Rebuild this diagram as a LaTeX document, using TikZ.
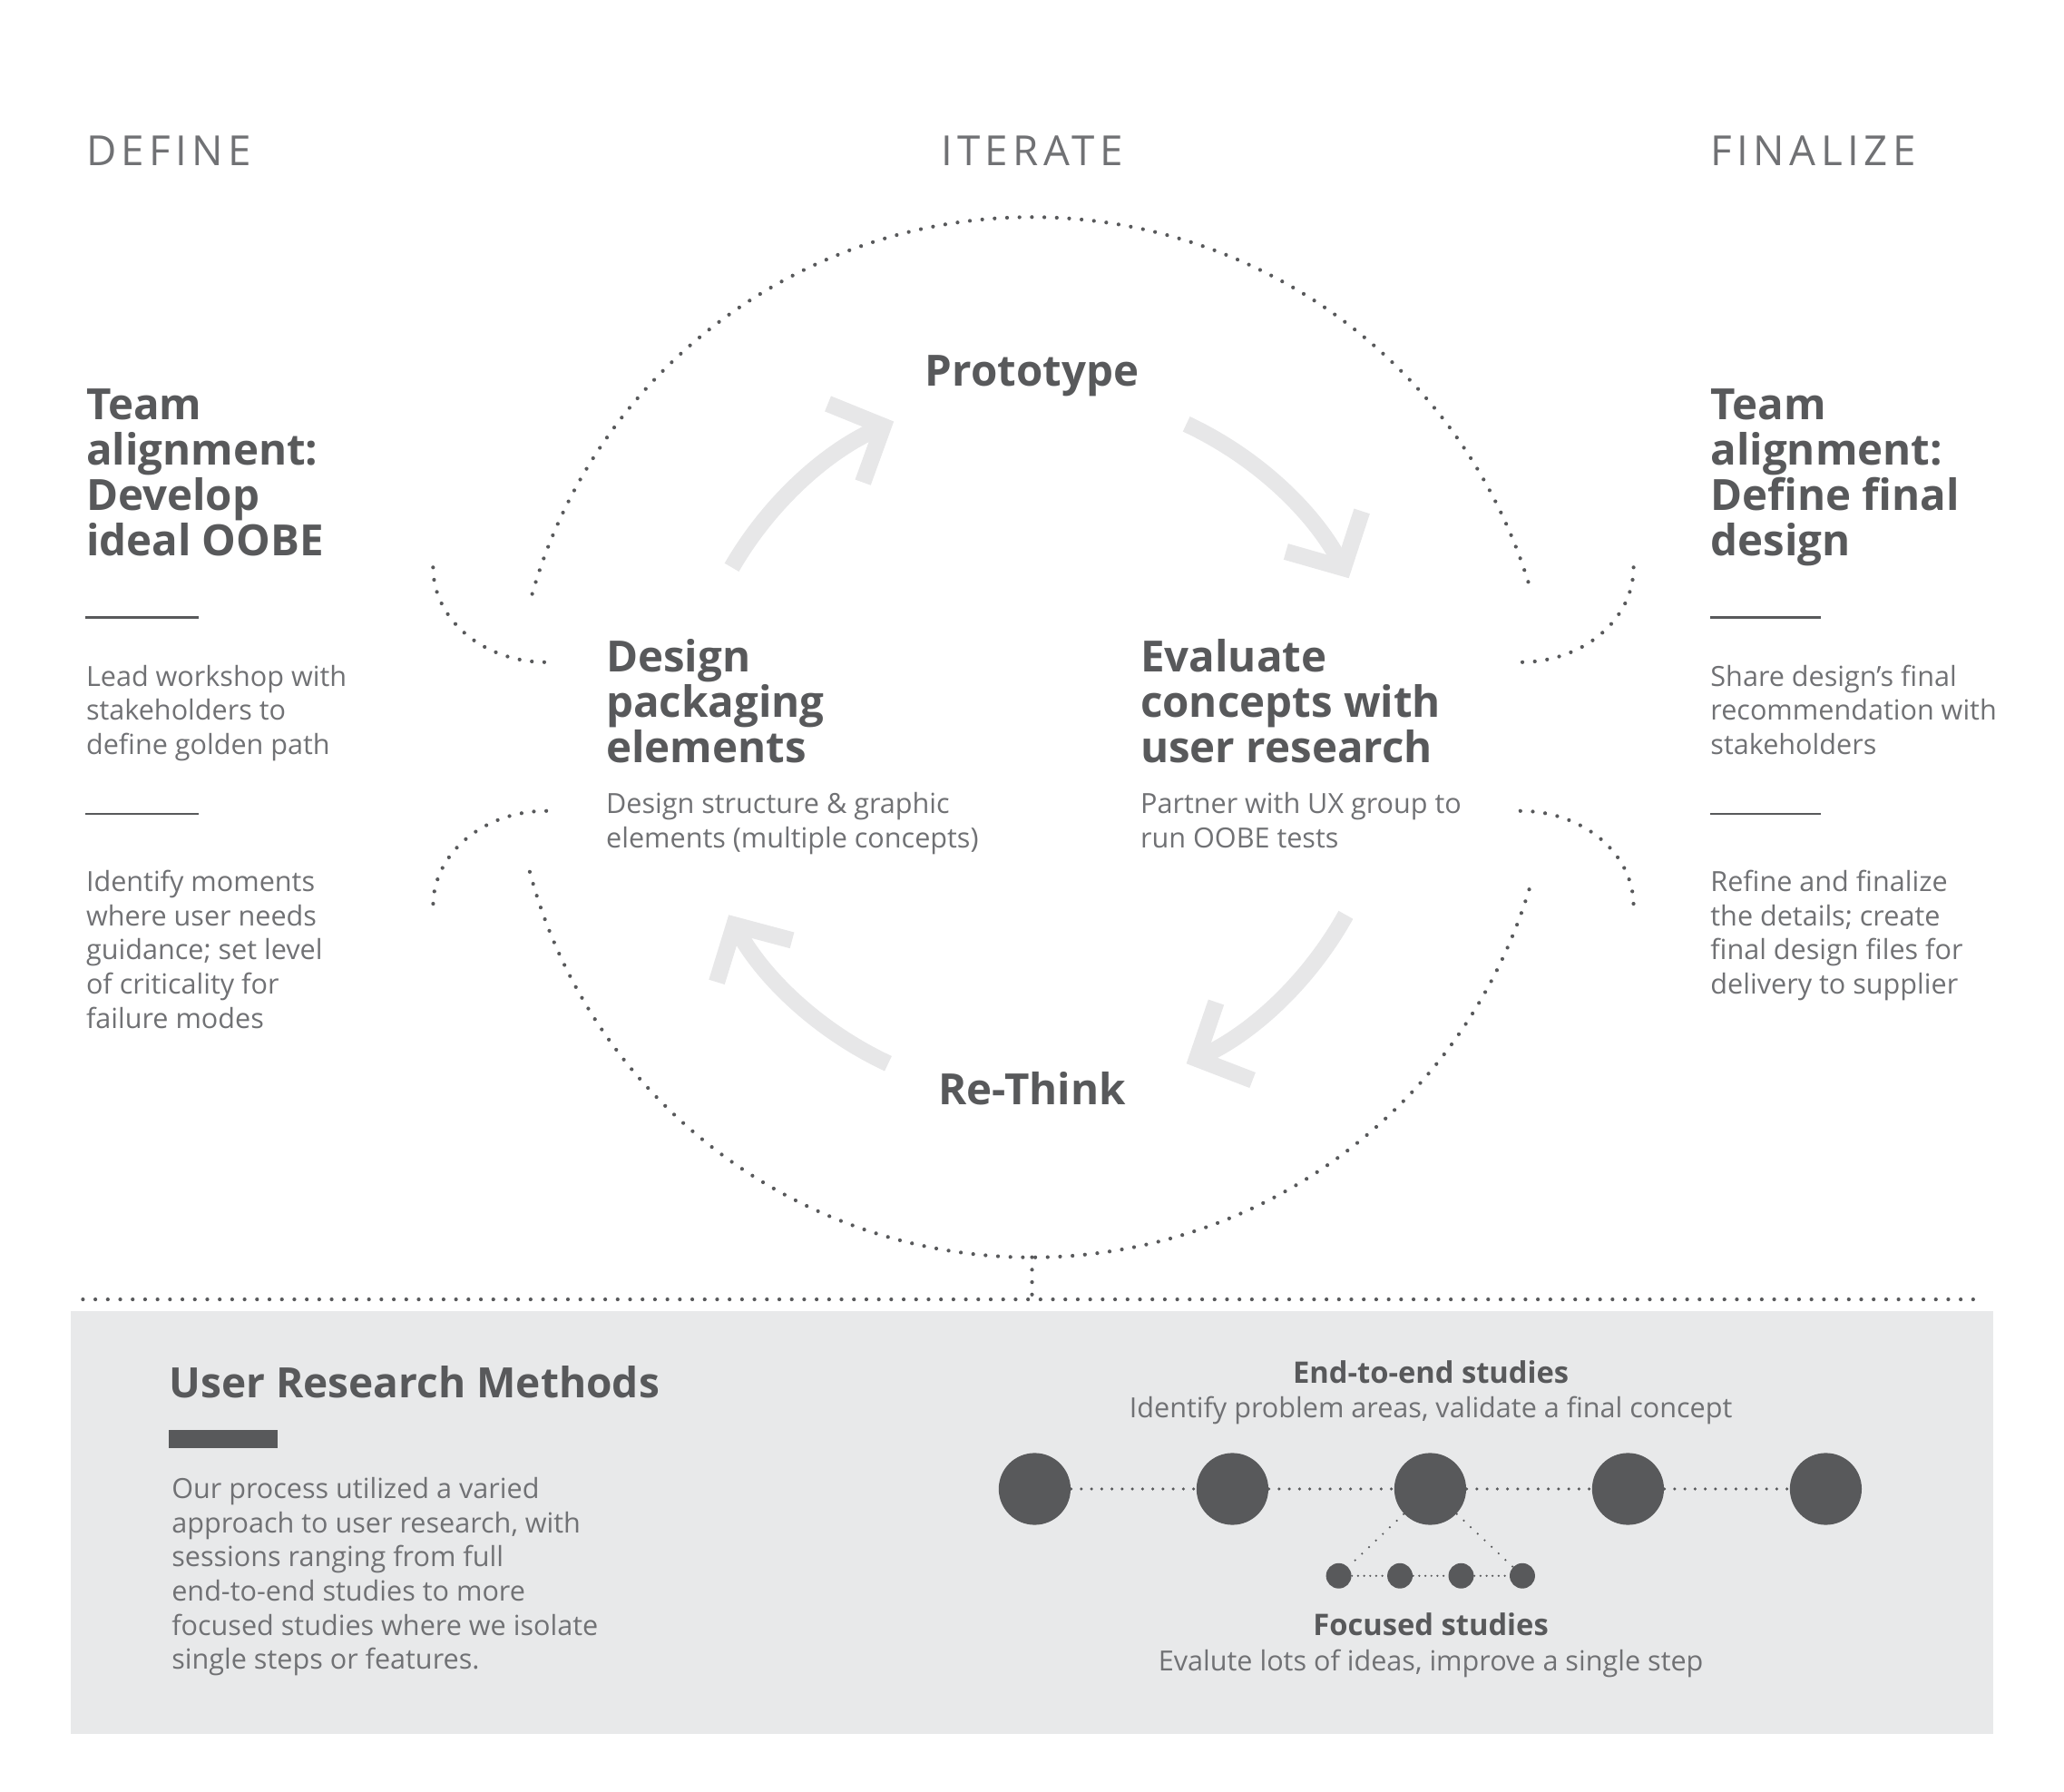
\documentclass[tikz,border=0pt]{standalone}
\usepackage{fontspec}
\setmainfont{Open Sans}
\newfontfamily\stagefont[LetterSpace=12]{Open Sans}
\usetikzlibrary{arrows.meta,calc}
\definecolor{txtdark}{HTML}{58595B}
\definecolor{txtgrey}{HTML}{707174}
\definecolor{arrowgrey}{HTML}{E7E7E8}
\definecolor{panelgrey}{HTML}{E8E9EA}
\tikzset{
	stage/.style={font=\stagefont\fontsize{13}{15}\selectfont, text=txtgrey, anchor=base west, inner sep=0pt},
	heading/.style={font=\bfseries\fontsize{13.5}{14.2}\selectfont, text=txtdark, align=left, anchor=base west, inner sep=0pt},
	subhead/.style={font=\bfseries\fontsize{9.3}{11}\selectfont, text=txtdark, anchor=base, inner sep=0pt},
	body/.style={font=\fontsize{8.7}{10.7}\selectfont, text=txtgrey, align=left, anchor=base west, inner sep=0pt},
	divider/.style={draw=txtdark, line width=0.6pt},
	loopdots/.style={draw=txtdark, line width=1.2pt, line cap=round, dash pattern=on 0pt off 3.9pt},
	linkdots/.style={draw=txtdark, line width=1pt, line cap=round, dash pattern=on 0pt off 3.2pt},
	finedots/.style={draw=txtdark, line width=0.7pt, line cap=round, dash pattern=on 0pt off 1.9pt},
	splitdots/.style={draw=txtdark, line width=0.7pt, line cap=round, dash pattern=on 0pt off 3pt},
	cyclearrow/.style={draw=arrowgrey, line width=5.2pt, -{Straight Barb[length=13pt,width=27pt]}},
	bigdot/.style={circle, fill=txtdark, minimum size=7.92mm, inner sep=0pt},
	smalldot/.style={circle, fill=txtdark, minimum size=2.79mm, inner sep=0pt}
}
\begin{document}
\begin{tikzpicture}[x=0.1451mm, y=-0.1451mm]
\useasboundingbox (0,0) rectangle (1568,1361);
\coordinate (cycle) at (784,560);
\coordinate (spin) at (788,565);

\node (define) [stage] at (65,126) {DEFINE};
\node (iterate) [stage, anchor=base] at (784,126) {ITERATE};
\node (finalize) [stage] at (1299,126) {FINALIZE};

\node (alignL) [heading] at (65,422) {Team\\alignment:\\Develop\\ideal OOBE};
\draw[divider] (65,469) -- (151,469);
\node (workshop) [body] at (65,573) {Lead workshop with\\stakeholders to\\define golden path};
\draw[divider] (65,618) -- (151,618);
\node (moments) [body] at (65,781) {Identify moments\\where user needs\\guidance; set level\\of criticality for\\failure modes};

\node (alignR) [heading] at (1299,422) {Team\\alignment:\\Define final\\design};
\draw[divider] (1299,469) -- (1383,469);
\node (share) [body] at (1299,573) {Share design’s final\\recommendation with\\stakeholders};
\draw[divider] (1299,618) -- (1383,618);
\node (refine) [body] at (1299,755) {Refine and finalize\\the details; create\\final design files for\\delivery to supplier};

\draw[loopdots] ($(cycle)+(196:395)$) arc[start angle=196, end angle=343, radius=395];
\draw[loopdots] ($(cycle)+(165:395)$) arc[start angle=165, end angle=16, radius=395];
\draw[loopdots] (329,431) arc[start angle=180, end angle=90, x radius=86, y radius=72];
\draw[loopdots] (415,616) arc[start angle=270, end angle=180, x radius=86, y radius=72];
\draw[loopdots] (1241,431) arc[start angle=0, end angle=90, x radius=86, y radius=72];
\draw[loopdots] (1155,616) arc[start angle=270, end angle=360, x radius=86, y radius=72];

\foreach \s/\e in {210/246, 295/332, 29/65, 115/151}
	\draw[cyclearrow] ($(spin)+(\s:268)$) arc[start angle=\s, end angle=\e, radius=268];

\node (proto) [heading, anchor=base] at (784,293) {Prototype};
\node (rethink) [heading, anchor=base] at (784,839) {Re-Think};
\node (design) [heading] at (460,579) {Design\\packaging\\elements};
\node (designtxt) [body] at (460,644) {Design structure \& graphic\\elements (multiple concepts)};
\node (evaluate) [heading] at (866,579) {Evaluate\\concepts with\\user research};
\node (evaluatetxt) [body] at (866,644) {Partner with UX group to\\run OOBE tests};

\coordinate (loopend) at (784,955);
\coordinate (drop) at (784,987);
\coordinate (ruleL) at (63,987);
\coordinate (ruleR) at (1505,987);
\draw[loopdots] (loopend) -- (drop);
\draw[loopdots] (ruleL) -- (ruleR);

\fill[panelgrey] (54,996) rectangle (1514,1317);
\node (methods) [heading, font=\bfseries\fontsize{13.1}{14.2}\selectfont] at (128,1062) {User Research Methods};
\fill[txtdark] (128,1086) rectangle (211,1100);
\node (approach) [body] at (130,1268) {Our process utilized a varied\\approach to user research, with\\sessions ranging from full\\end-to-end studies to more\\focused studies where we isolate\\single steps or features.};

\node (endtoend) [subhead] at (1087,1051) {End-to-end studies};
\node (endtoendtxt) [body, anchor=base] at (1087,1077) {Identify problem areas, validate a final concept};
\foreach \i in {1,...,5}
	\node (e\i) [bigdot] at ({786+150.25*(\i-1)},1131) {};
\foreach \i [count=\j from 2] in {1,...,4}
	\draw[linkdots] (e\i) -- (e\j);
\foreach \i in {1,...,4}
	\node (f\i) [smalldot] at ({1017+46.5*(\i-1)},1197) {};
\foreach \i [count=\j from 2] in {1,...,3}
	\draw[finedots] (f\i) -- (f\j);
\draw[splitdots] (e3) -- (f1);
\draw[splitdots] (e3) -- (f4);
\node (focused) [subhead] at (1087,1242) {Focused studies};
\node (focusedtxt) [body, anchor=base] at (1087,1269) {Evalute lots of ideas, improve a single step};
\end{tikzpicture}
\end{document}
